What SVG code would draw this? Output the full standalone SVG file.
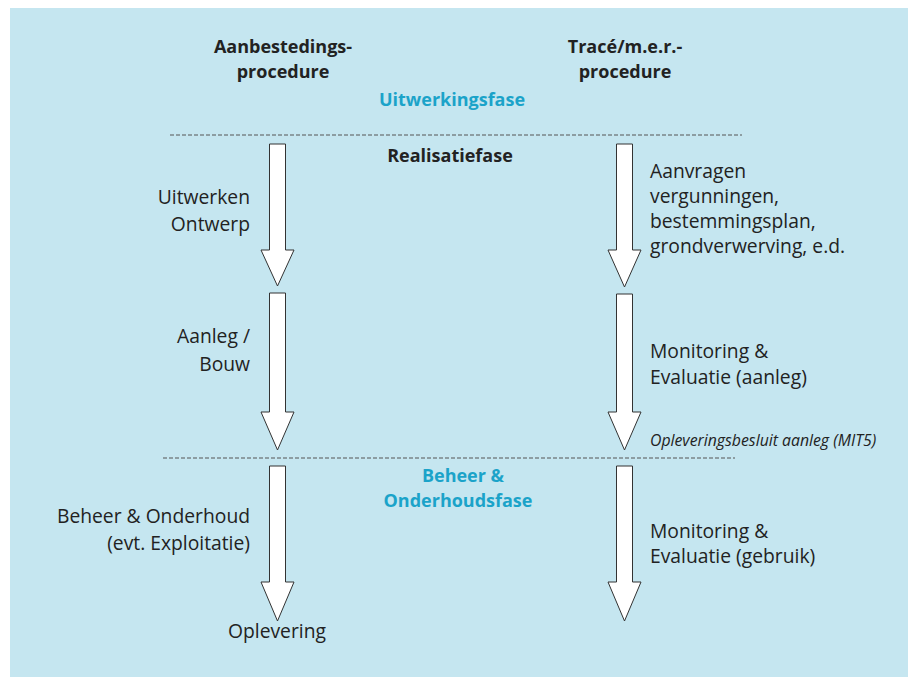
<svg xmlns="http://www.w3.org/2000/svg" width="908" height="677" viewBox="0 0 908 677">
  <style>
    .bg { fill: #c5e6f0; }
    .t { font-family: "Open Sans", "Noto Sans", sans-serif; font-size: 19.3px; fill: #222; }
    .h { font-family: "Open Sans", "Noto Sans", sans-serif; font-size: 18px; font-weight: bold; fill: #222; }
    .phase { font-family: "Open Sans", "Noto Sans", sans-serif; font-size: 18px; font-weight: bold; fill: #1ba3c9; }
    .note { font-family: "Open Sans", "Noto Sans", sans-serif; font-size: 15.8px; font-style: italic; fill: #222; }
    .arrow { fill: #ffffff; stroke: #333; stroke-width: 1; stroke-linejoin: miter; }
    .divider { stroke: #555; stroke-width: 1; stroke-dasharray: 4 2; fill: none; }
  </style>

  <rect class="bg" x="10" y="8" width="898" height="669"/>

  <!-- column headings -->
  <g id="head-aanbesteding">
    <text class="h" x="283" y="53" text-anchor="middle">Aanbestedings-</text>
    <text class="h" x="283" y="78" text-anchor="middle">procedure</text>
  </g>
  <g id="head-trace">
    <text class="h" x="625" y="53" text-anchor="middle">Tracé/m.e.r.-</text>
    <text class="h" x="625" y="78" text-anchor="middle">procedure</text>
  </g>

  <!-- phase labels -->
  <g id="phase-uitwerking">
    <text class="phase" x="452" y="106" text-anchor="middle">Uitwerkingsfase</text>
  </g>
  <g id="phase-realisatie">
    <text class="h" x="450" y="162" text-anchor="middle">Realisatiefase</text>
  </g>
  <g id="phase-beheer">
    <text class="phase" x="463" y="482" text-anchor="middle">Beheer &amp;</text>
    <text class="phase" x="458" y="507" text-anchor="middle">Onderhoudsfase</text>
  </g>

  <!-- phase boundaries and flow arrows -->
  <g id="connectors">
    <line class="divider" x1="170" y1="135" x2="742" y2="135"/>
    <line class="divider" x1="163" y1="458" x2="735" y2="458"/>

    <polygon class="arrow" points="269.5,144 285.5,144 285.5,250 294,250 277.5,286 261,250 269.5,250"/>
    <polygon class="arrow" points="616.5,144 632.5,144 632.5,250 641,250 624.5,287 608,250 616.5,250"/>

    <polygon class="arrow" points="269.5,293 285.5,293 285.5,412 294,412 277.5,450 261,412 269.5,412"/>
    <polygon class="arrow" points="616.5,294 632.5,294 632.5,412 641,412 624.5,450 608,412 616.5,412"/>

    <polygon class="arrow" points="269.5,466 285.5,466 285.5,582 294,582 277.5,621 261,582 269.5,582"/>
    <polygon class="arrow" points="616.5,466 632.5,466 632.5,582 641,582 624.5,621 608,582 616.5,582"/>
  </g>

  <!-- left column steps -->
  <g id="step-ontwerp">
    <text class="t" x="250" y="204" text-anchor="end">Uitwerken</text>
    <text class="t" x="250" y="231" text-anchor="end">Ontwerp</text>
  </g>
  <g id="step-aanleg">
    <text class="t" x="250" y="343" text-anchor="end">Aanleg /</text>
    <text class="t" x="250" y="371" text-anchor="end">Bouw</text>
  </g>
  <g id="step-beheer">
    <text class="t" x="250" y="523" text-anchor="end">Beheer &amp; Onderhoud</text>
    <text class="t" x="250" y="550" text-anchor="end">(evt. Exploitatie)</text>
  </g>
  <g id="step-oplevering">
    <text class="t" x="277" y="638" text-anchor="middle">Oplevering</text>
  </g>

  <!-- right column steps -->
  <g id="step-vergunningen">
    <text class="t" x="650" y="178">Aanvragen</text>
    <text class="t" x="650" y="203">vergunningen,</text>
    <text class="t" x="650" y="228">bestemmingsplan,</text>
    <text class="t" x="650" y="253">grondverwerving, e.d.</text>
  </g>
  <g id="step-monitoring-aanleg">
    <text class="t" x="650" y="358">Monitoring &amp;</text>
    <text class="t" x="650" y="384">Evaluatie (aanleg)</text>
  </g>
  <g id="milestone-mit5">
    <text class="note" x="650" y="446">Opleveringsbesluit aanleg (MIT5)</text>
  </g>
  <g id="step-monitoring-gebruik">
    <text class="t" x="650" y="538">Monitoring &amp;</text>
    <text class="t" x="650" y="563">Evaluatie (gebruik)</text>
  </g>
</svg>
